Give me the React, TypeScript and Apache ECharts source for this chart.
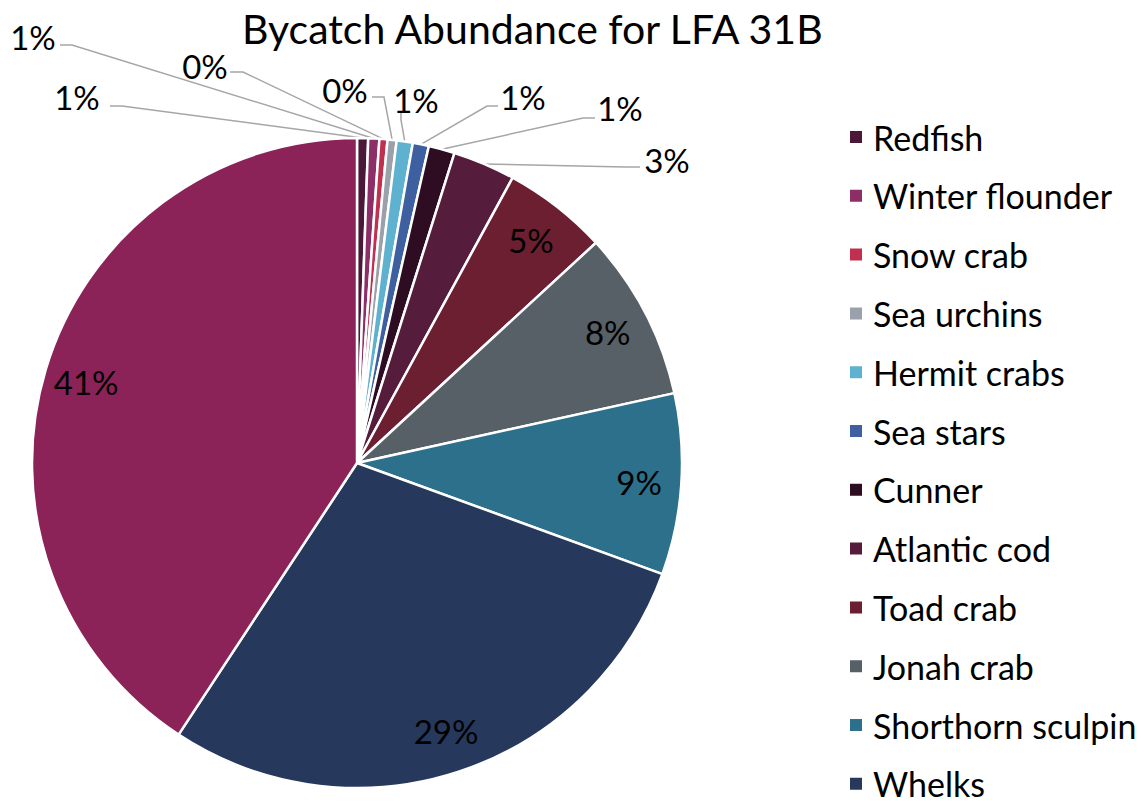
import React, { useEffect, useRef } from "react";
import * as echarts from "echarts";

const categories = [
  "Redfish", "Winter flounder", "Snow crab", "Sea urchins", "Hermit crabs", "Sea stars",
  "Cunner", "Atlantic cod", "Toad crab", "Jonah crab", "Shorthorn sculpin", "Whelks", "Rock crab",
];
const values = [0.55, 0.55, 0.4, 0.45, 0.8, 0.8, 1.3, 3.1, 5.2, 8.4, 9.0, 28.7, 40.75];
const colors = [
  "#4B1838", "#8E2E66", "#C0314F", "#9BA1AA", "#5FB1D0", "#3F60A0",
  "#2E0C22", "#561C3B", "#6B1F31", "#575F67", "#2D708C", "#26395C", "#8B2359",
];
const legendNames = categories.slice(0, 12);

// outer label placement (label centre, line start near label, elbow)
const outerLabelPos = [
  [77, 97], [33, 37], [205, 66], [345, 90], [416, 100], [523, 97], [620, 108], [667, 160],
];
const outerLineNear = [
  [110, 106], [60, 45], [230, 72], [372, 97], [401, 113], [498, 106], [595, 118], [640, 167],
];
const outerLineElbow = [
  [122, 106], [72, 45], [243, 72], [384, 97], [401, 120], [487, 106], [583, 118], [625, 167],
];

const CX = 357;
const CY = 463;
const R = 325;
const INNER_RATIO = 0.87;

export default function App() {
  const ref = useRef<HTMLDivElement>(null);
  useEffect(() => {
    if (!ref.current) return;
    const chart = echarts.init(ref.current, null, { renderer: "svg" });
    const total = values.reduce((a, b) => a + b, 0);
    const mids: number[] = [];
    let cum = 0;
    values.forEach((v) => {
      mids.push(((cum + v / 2) / total) * Math.PI * 2);
      cum += v;
    });
    const font = "Lato, 'Open Sans', sans-serif";
    chart.setOption({
      animation: false,
      backgroundColor: "#ffffff",
      title: {
        text: "Bycatch Abundance for LFA 31B",
        left: 242,
        top: 6,
        padding: 0,
        textStyle: { fontSize: 41, fontWeight: "normal", color: "#000", fontFamily: font, lineHeight: 44 },
      },
      legend: {
        orient: "vertical",
        left: 848,
        top: 120,
        height: 720,
        padding: 0,
        data: legendNames,
        icon: "rect",
        itemWidth: 14,
        itemHeight: 14,
        itemGap: 24.8,
        textStyle: { fontSize: 34, color: "#000", fontFamily: font, lineHeight: 34, padding: [0, 0, 0, 5] },
      },
      series: [
        {
          type: "pie",
          center: [CX, CY],
          radius: R,
          startAngle: 90,
          clockwise: true,
          avoidLabelOverlap: false,
          itemStyle: { borderColor: "#ffffff", borderWidth: 2.5 },
          label: {
            show: true,
            position: "outside",
            fontSize: 33,
            color: "#000",
            fontFamily: font,
            formatter: (p: any) => Math.round(p.percent) + "%",
          },
          labelLine: { show: true, lineStyle: { color: "#A6A6A6", width: 1.5 } },
          emphasis: { disabled: true },
          labelLayout: (params: any) => {
            const i = params.dataIndex;
            const a = mids[i];
            if (i < outerLabelPos.length) {
              const edge = [CX + R * Math.sin(a), CY - R * Math.cos(a)];
              return {
                x: outerLabelPos[i][0],
                y: outerLabelPos[i][1],
                align: "center",
                verticalAlign: "middle",
                labelLinePoints: [edge, outerLineElbow[i], outerLineNear[i]],
              };
            }
            return {
              x: CX + R * INNER_RATIO * Math.sin(a),
              y: CY - R * INNER_RATIO * Math.cos(a),
              align: "center",
              verticalAlign: "middle",
            };
          },
          data: categories.map((name, i) => ({
            name,
            value: values[i],
            itemStyle: { color: colors[i] },
            labelLine: { show: i < outerLabelPos.length },
          })),
        },
      ],
    });
    return () => chart.dispose();
  }, []);
  return (
    <div
      ref={ref}
      style={{ position: "fixed", left: 0, top: 0, width: 1148, height: 801, background: "#fff" }}
    />
  );
}
